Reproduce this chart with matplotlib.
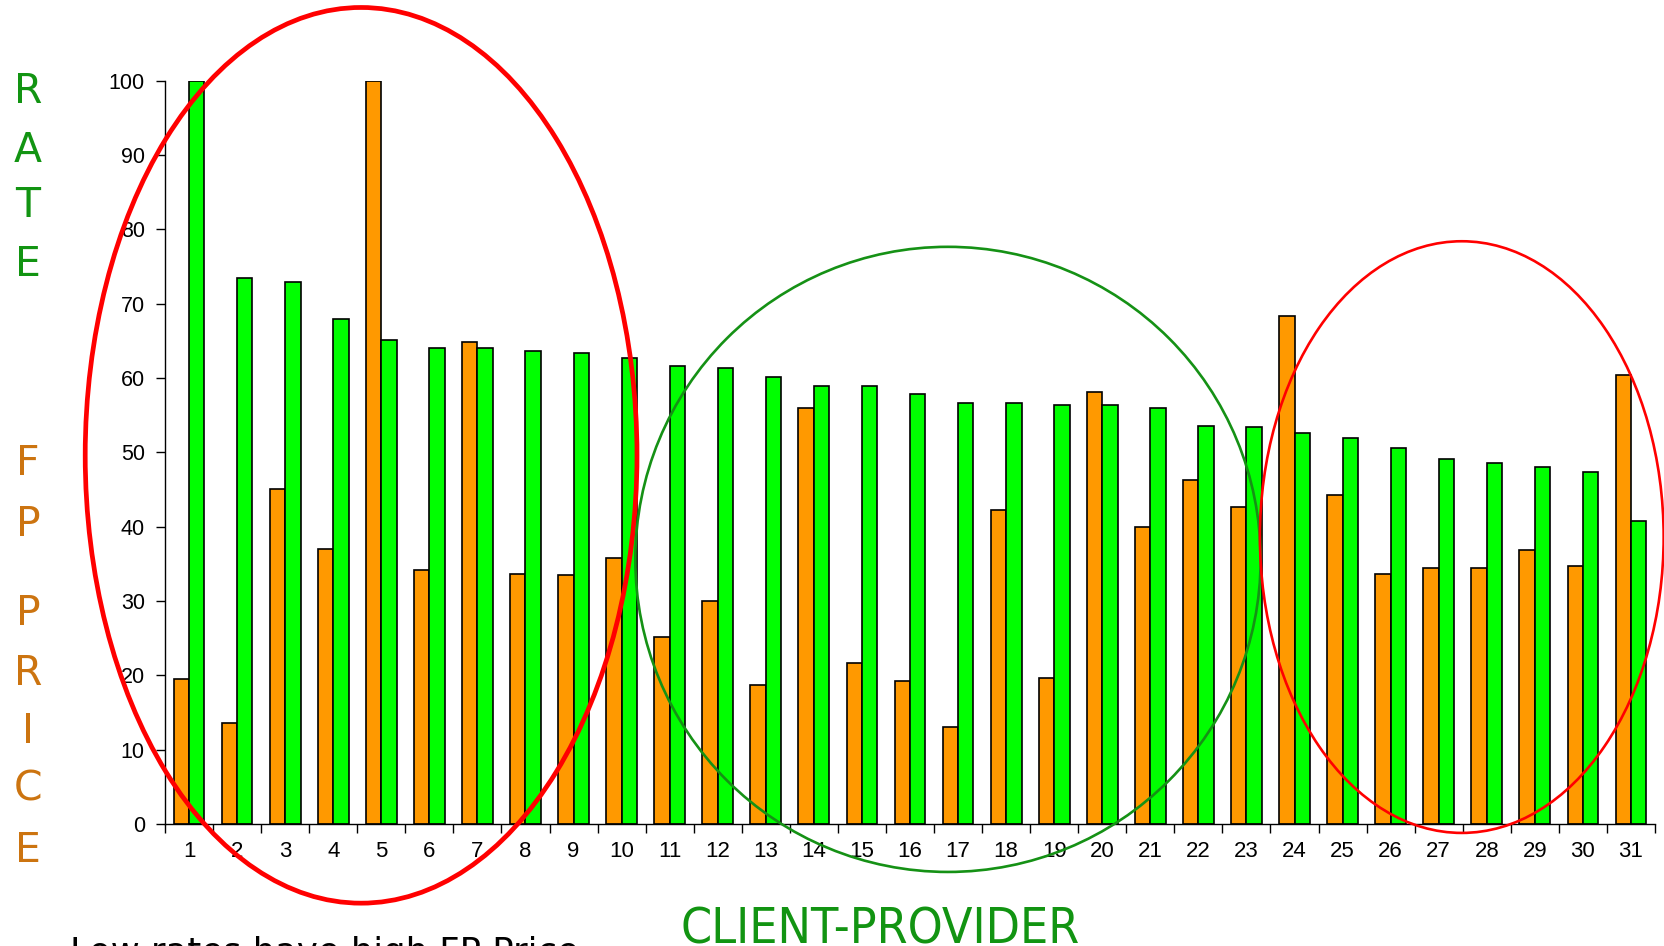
import numpy as np
import matplotlib
matplotlib.use("Agg")
import matplotlib.pyplot as plt
from matplotlib.patches import Ellipse
from matplotlib import font_manager as fm

# Client-provider pairs and their two measures
pairs = list(range(1, 32))
fp_price = [19.5, 13.6, 45.1, 37.0, 100.0, 34.2, 64.9, 33.7, 33.5, 35.8,
            25.2, 30.0, 18.7, 55.9, 21.7, 19.2, 13.1, 42.3, 19.7, 58.1,
            40.0, 46.3, 42.6, 68.4, 44.3, 33.7, 34.5, 34.5, 36.8, 34.7, 60.4]
rate = [100.0, 73.4, 72.9, 67.9, 65.1, 64.1, 64.0, 63.7, 63.4, 62.7,
        61.6, 61.4, 60.1, 58.9, 58.9, 57.9, 56.6, 56.6, 56.4, 56.4,
        55.9, 53.6, 53.4, 52.6, 51.9, 50.6, 49.1, 48.6, 48.0, 47.3, 40.8]
y_ticks = list(range(0, 101, 10))

W, H = 1665, 946
fig = plt.figure(figsize=(W / 100, H / 100), dpi=100)
fig.patch.set_facecolor("white")

ax_left, ax_right = 165, 1655
ax_top, ax_bottom = 80.7, 824
ax = fig.add_axes([ax_left / W, (H - ax_bottom) / H,
                   (ax_right - ax_left) / W, (ax_bottom - ax_top) / H])

x = np.array(pairs, dtype=float)
bw = 0.32
ax.bar(x - bw / 2, fp_price, bw, color="#FF9900", edgecolor="black",
       linewidth=1.2, zorder=2)
ax.bar(x + bw / 2, rate, bw, color="#00FF00", edgecolor="black",
       linewidth=1.2, zorder=2)

ax.set_xlim(0.5, len(pairs) + 0.5)
ax.set_ylim(0, 100)
for s in ("top", "right"):
    ax.spines[s].set_visible(False)
for s in ("left", "bottom"):
    ax.spines[s].set_linewidth(1.0)
    ax.spines[s].set_color("black")

tick_font = {"family": ["Liberation Sans", "DejaVu Sans"]}
ax.set_yticks(y_ticks)
ax.set_yticklabels([str(v) for v in y_ticks], fontdict=tick_font, fontsize=15.5)
ax.tick_params(axis="y", direction="out", length=6.5, width=1.0, pad=8)

ax.set_xticks(x)
ax.set_xticklabels([str(p) for p in pairs], fontdict=tick_font, fontsize=16)
ax.set_xticks(np.arange(0.5, len(pairs) + 1, 1.0), minor=True)
ax.tick_params(axis="x", which="major", length=0, pad=12)
ax.tick_params(axis="x", which="minor", direction="out", length=6.5, width=1.0)

# Highlight ellipses around groups of pairs
ax.add_patch(Ellipse((4.58, 49.6), 11.48, 120.5, fill=False,
                     edgecolor="#FF0000", linewidth=3.4, clip_on=False, zorder=5))
ax.add_patch(Ellipse((16.79, 35.6), 13.01, 84.1, fill=False,
                     edgecolor="#159115", linewidth=1.9, clip_on=False, zorder=5))
ax.add_patch(Ellipse((27.48, 38.6), 8.40, 79.6, fill=False,
                     edgecolor="#FF0000", linewidth=1.9, clip_on=False, zorder=5))


def px_text(px, py, s, **kw):
    """Place text by pixel position (origin top-left)."""
    return fig.text(px / W, 1 - py / H, s, **kw)


green_txt = "#129412"
orange_txt = "#CC7410"
letter_kw = dict(fontsize=29.5, family=["DejaVu Sans"], ha="center", va="baseline")
for ch, cy in zip("RATE", [88, 146.5, 202, 261]):
    px_text(28, cy + 15, ch, color=green_txt, **letter_kw)
for ch, cy in zip("FPPRICE", [460, 521, 610, 670, 728, 785, 847]):
    px_text(28, cy + 15, ch, color=orange_txt, **letter_kw)

# Axis caption in a narrow face when one is installed
installed = {(f.name, f.stretch) for f in fm.fontManager.ttflist}
names = {n for n, _ in installed}
if "Liberation Sans Narrow" in names:
    cap_kw = dict(family=["Liberation Sans Narrow"])
    cap_ratio = 0.716
elif ("DejaVu Sans", "condensed") in installed:
    cap_kw = dict(family=["DejaVu Sans"], fontstretch="condensed")
    cap_ratio = 0.729
else:
    cap_kw = dict(family=["DejaVu Sans"])
    cap_ratio = 0.729
caption = px_text(681, 945, "CLIENT-PROVIDER", color=green_txt, fontsize=38.5,
                  ha="left", va="baseline", **cap_kw)
# keep the caption about 400 px wide, with its cap line at y = 907 px
renderer = fig.canvas.get_renderer()
cw = caption.get_window_extent(renderer).width
cap_fs = 38.5 * min(1.0, 400.0 / cw)
caption.set_fontsize(cap_fs)
cap_h = cap_ratio * cap_fs * 100 / 72
caption.set_position((681 / W, 1 - (907 + cap_h) / H))

px_text(70, 963, "Low rates have high FP Price", color="black", fontsize=25.5,
        family=["DejaVu Sans"], ha="left", va="baseline")

fig.savefig("out.png", dpi=100, facecolor="white")
